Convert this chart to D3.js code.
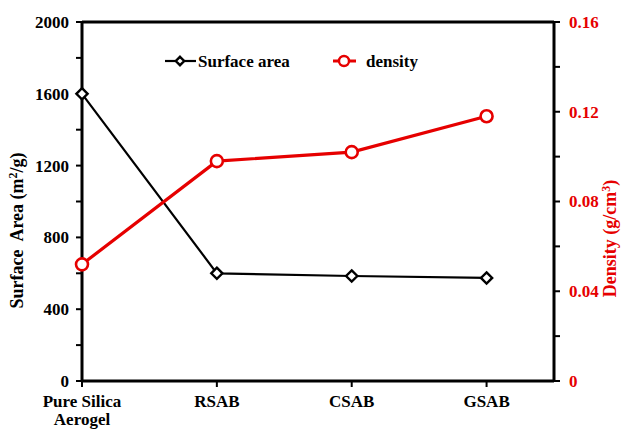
<!DOCTYPE html>
<html>
<head>
<meta charset="utf-8">
<script src="https://cdn.jsdelivr.net/npm/d3@7"></script>
<style>
  body { margin: 0; background: #fff; }
</style>
</head>
<body>
<svg id="chart" width="627" height="430"></svg>
<script>
// Samples and measured values
const categories = ["Pure Silica Aerogel", "RSAB", "CSAB", "GSAB"];
const surfaceArea = [1600, 600, 585, 574];      // m²/g
const density = [0.052, 0.098, 0.102, 0.118];   // g/cm³
const leftTicks = [0, 400, 800, 1200, 1600, 2000];
const rightTicks = [0, 0.04, 0.08, 0.12, 0.16];

const svg = d3.select("#chart");
const plotL = 82, plotR = 554, plotT = 22, plotB = 381;

const x = d3.scaleLinear().domain([0, 3.5]).range([plotL, plotR]);
const yL = d3.scaleLinear().domain([0, 2000]).range([plotB, plotT]);
const yR = d3.scaleLinear().domain([0, 0.16]).range([plotB, plotT]);

const red = "#e60000";
const fs = 17;

// Frame: top border
svg.append("line").attr("x1", plotL).attr("x2", plotR).attr("y1", plotT).attr("y2", plotT)
  .attr("stroke", "#000").attr("stroke-width", 3);

// Left axis
const gL = svg.append("g").attr("transform", `translate(${plotL},0)`);
gL.append("line").attr("y1", plotT).attr("y2", plotB).attr("stroke", "#000").attr("stroke-width", 3);
d3.range(0, 2001, 200).forEach(v => {
  gL.append("line").attr("x1", -6).attr("x2", 0).attr("y1", yL(v)).attr("y2", yL(v))
    .attr("stroke", "#000").attr("stroke-width", 2);
});
leftTicks.forEach(v => {
  gL.append("text").attr("x", -13).attr("y", yL(v)).attr("dy", "0.35em")
    .attr("text-anchor", "end").attr("font-size", fs).text(v);
});

// Right axis
const gR = svg.append("g").attr("transform", `translate(${plotR},0)`);
gR.append("line").attr("y1", plotT).attr("y2", plotB).attr("stroke", "#000").attr("stroke-width", 3);
d3.range(0, 9).forEach(i => {
  const v = i * 0.02;
  gR.append("line").attr("x1", 0).attr("x2", 6).attr("y1", yR(v)).attr("y2", yR(v))
    .attr("stroke", "#000").attr("stroke-width", 2);
});
rightTicks.forEach(v => {
  gR.append("text").attr("x", 15).attr("y", yR(v)).attr("dy", "0.35em")
    .attr("text-anchor", "start").attr("font-size", fs).attr("fill", red)
    .text(v === 0 ? "0" : d3.format(".2f")(v));
});

// Bottom axis
const gB = svg.append("g");
gB.append("line").attr("x1", plotL).attr("x2", plotR).attr("y1", plotB).attr("y2", plotB)
  .attr("stroke", "#000").attr("stroke-width", 3);
categories.forEach((c, i) => {
  gB.append("line").attr("x1", x(i)).attr("x2", x(i)).attr("y1", plotB).attr("y2", plotB + 6)
    .attr("stroke", "#000").attr("stroke-width", 2);
  const t = gB.append("text").attr("x", x(i)).attr("y", 407)
    .attr("text-anchor", "middle").attr("font-size", fs);
  if (i === 0) {
    t.append("tspan").attr("x", x(i)).text("Pure Silica");
    t.append("tspan").attr("x", x(i)).attr("dy", 18).text("Aerogel");
  } else {
    t.text(c);
  }
});

// Axis titles
svg.append("text").attr("transform", `translate(23,${(plotT + plotB) / 2 + 29}) rotate(-90)`)
  .attr("text-anchor", "middle").attr("font-size", 18)
  .html('Surface&#160; Area (m<tspan dy="-6" font-size="12">2</tspan><tspan dy="6">/g)</tspan>');
svg.append("text").attr("transform", `translate(616,${(plotT + plotB) / 2 + 37}) rotate(-90)`)
  .attr("text-anchor", "middle").attr("font-size", 18).attr("fill", red)
  .html('Density (g/cm<tspan dy="-6" font-size="12">3</tspan><tspan dy="6">)</tspan>');

// Series lines
const lineL = d3.line().x((d, i) => x(i)).y(d => yL(d));
const lineR = d3.line().x((d, i) => x(i)).y(d => yR(d));

svg.append("path").datum(surfaceArea).attr("d", lineL)
  .attr("fill", "none").attr("stroke", "#000").attr("stroke-width", 2.2);
svg.append("path").datum(density).attr("d", lineR)
  .attr("fill", "none").attr("stroke", red).attr("stroke-width", 3.2);

const diamond = d3.symbol().type(d3.symbolDiamond2).size(80);
svg.selectAll(".sa").data(surfaceArea).join("path").attr("class", "sa")
  .attr("d", diamond).attr("transform", (d, i) => `translate(${x(i)},${yL(d)})`)
  .attr("fill", "#fff").attr("stroke", "#000").attr("stroke-width", 2.4);
svg.selectAll(".de").data(density).join("circle").attr("class", "de")
  .attr("cx", (d, i) => x(i)).attr("cy", d => yR(d)).attr("r", 6)
  .attr("fill", "#fff").attr("stroke", red).attr("stroke-width", 2.6);

// Legend
const lg = svg.append("g");
const ly = 61;
lg.append("line").attr("x1", 165).attr("x2", 196).attr("y1", ly).attr("y2", ly)
  .attr("stroke", "#000").attr("stroke-width", 2.2);
lg.append("path").attr("d", d3.symbol().type(d3.symbolDiamond2).size(45))
  .attr("transform", `translate(180,${ly})`).attr("fill", "#fff").attr("stroke", "#000").attr("stroke-width", 2.4);
lg.append("text").attr("x", 198).attr("y", ly).attr("dy", "0.35em").attr("font-size", fs).text("Surface area");
lg.append("line").attr("x1", 333).attr("x2", 356).attr("y1", ly).attr("y2", ly)
  .attr("stroke", red).attr("stroke-width", 3);
lg.append("circle").attr("cx", 344).attr("cy", ly).attr("r", 5)
  .attr("fill", "#fff").attr("stroke", red).attr("stroke-width", 2.4);
lg.append("text").attr("x", 366).attr("y", ly).attr("dy", "0.35em").attr("font-size", fs).text("density");

// Bold serif face on every label
svg.selectAll("text").attr("font-family", "Liberation Serif").attr("font-weight", "bold");
</script>
</body>
</html>
